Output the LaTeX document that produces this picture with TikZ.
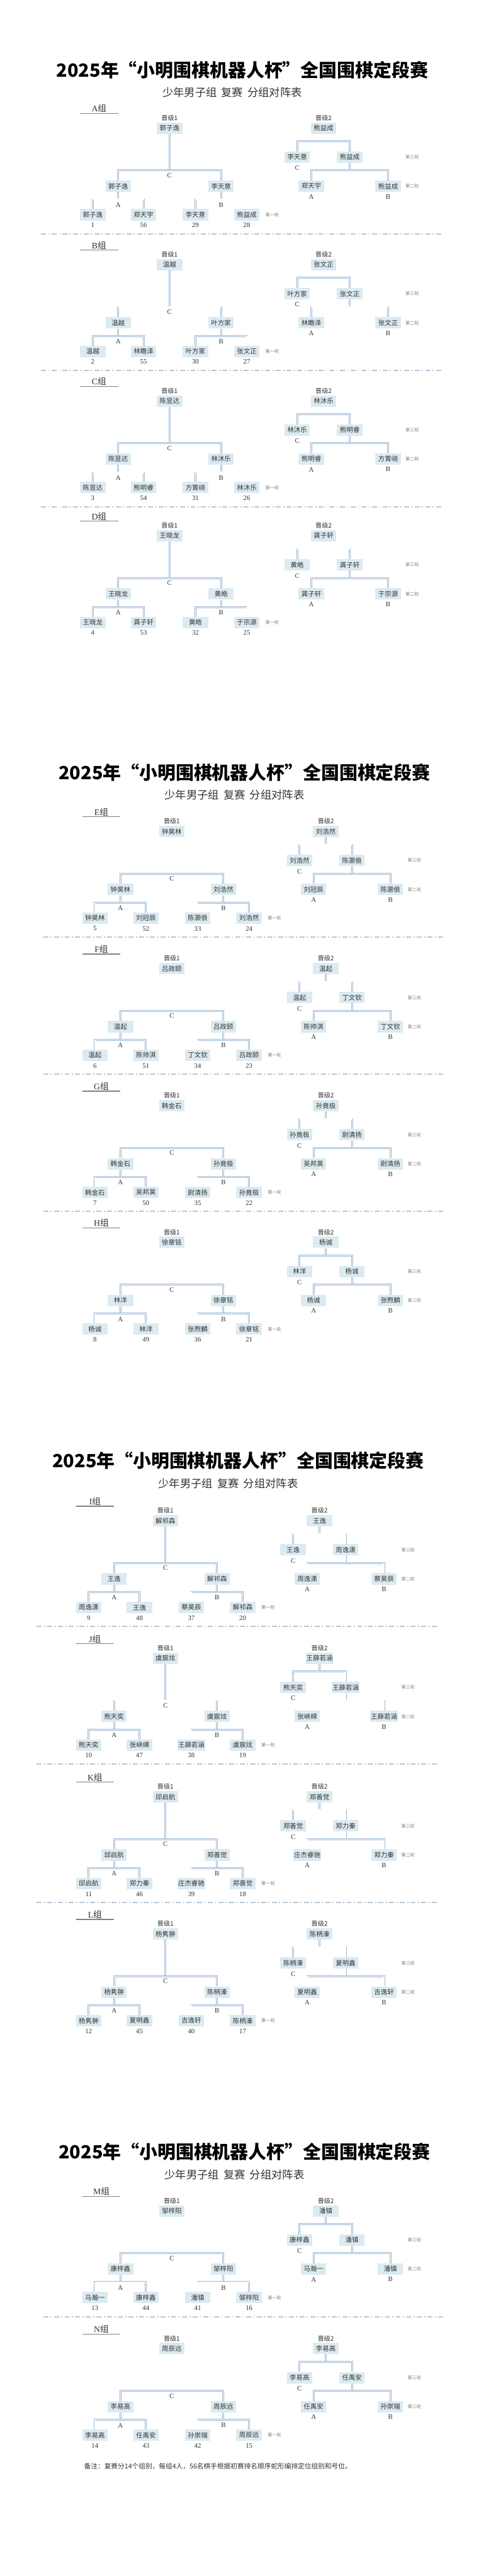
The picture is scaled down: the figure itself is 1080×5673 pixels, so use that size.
\documentclass[tikz,border=0pt]{standalone}
\usepackage{fontspec}
\setmainfont{Liberation Serif}
\newfontfamily\cjk{Noto Sans CJK SC}
\usetikzlibrary{positioning}

\definecolor{boxblue}{HTML}{DCEAF1}
\definecolor{lineblue}{HTML}{9AB7D4}
\definecolor{sepblue}{HTML}{B6C7D8}
\definecolor{inkgray}{HTML}{333333}

\tikzset{
  player/.style={fill=boxblue, minimum width=56pt, minimum height=25pt, inner sep=1pt,
    text=inkgray, font=\cjk\fontsize{14.5}{16}\selectfont},
  dbl/.style={draw=lineblue, line width=1.1pt, double=white, double distance=1.7pt},
  tag/.style={inner sep=0pt, text=inkgray, font=\fontsize{15}{17}\selectfont},
  cjktag/.style={inner sep=0pt, text=inkgray, font=\cjk\fontsize{14}{16}\selectfont},
  roundtag/.style={inner sep=0pt, text=gray, font=\cjk\fontsize{10}{12}\selectfont},
  grouptag/.style={inner sep=0pt, text=inkgray, font=\fontsize{19}{21}\selectfont},
  sepline/.style={draw=sepblue, line width=2.5pt, dash pattern=on 11pt off 5pt on 2.5pt off 5pt},
}

\begin{document}
\begin{tikzpicture}[x=1pt, y=-1pt]
  \fill[white] (0,0) rectangle (1080,5673);
  \useasboundingbox (0,0) rectangle (1080,5673);

  % page headers
  \foreach \dx/\ty in {0/154, 5/1701, -9/3217, 5/4739} {
    \node[text=black, font=\cjk\bfseries\fontsize{40}{44}\selectfont] (title) at (533+\dx,\ty)
      {2025年“小明围棋机器人杯”全国围棋定段赛};
    \node[text=inkgray, font=\cjk\fontsize{24}{28}\selectfont] (subtitle) at (511+\dx,\ty+50)
      {少年男子组\hspace{0.4em}复赛\hspace{0.4em}分组对阵表};
  }

  % one bracket per group
  \foreach \dx/\gy/\gid/\pA/\pB/\pC/\pD/\nA/\nB/\nC/\nD/\mA/\mB/\wA/\sA/\sB/\tA/\tB/\wB/\sep in {
      0/239/A/郭子逸/郑天宇/李天意/熊益成/1/56/29/28/郭子逸/李天意/郭子逸/郑天宇/熊益成/李天意/熊益成/熊益成/1,
      0/540/B/温越/林瞻泽/叶方家/张文正/2/55/30/27/温越/叶方家/温越/林瞻泽/张文正/叶方家/张文正/张文正/1,
      0/840/C/陈昱达/熊明睿/方箐峣/林沐乐/3/54/31/26/陈昱达/林沐乐/陈昱达/熊明睿/方箐峣/林沐乐/熊明睿/林沐乐/1,
      0/1137/D/王晓龙/龚子轩/黄皓/于宗源/4/53/32/25/王晓龙/黄皓/王晓龙/龚子轩/于宗源/黄皓/龚子轩/龚子轩/0,
      5/1788/E/钟昊林/刘冠辰/陈灏俍/刘浩然/5/52/33/24/钟昊林/刘浩然/钟昊林/刘冠辰/陈灏俍/刘浩然/陈灏俍/刘浩然/1,
      5/2090/F/温起/陈帅淇/丁文钦/吕政颐/6/51/34/23/温起/吕政颐/吕政颐/陈帅淇/丁文钦/温起/丁文钦/温起/1,
      5/2392/G/韩金石/吴邦昊/尉清扬/孙竟极/7/50/35/22/韩金石/孙竟极/韩金石/吴邦昊/尉清扬/孙竟极/尉清扬/孙竟极/1,
      5/2693/H/杨诚/林洋/张煦麟/徐章铭/8/49/36/21/林洋/徐章铭/徐章铭/杨诚/张煦麟/林洋/杨诚/杨诚/0,
      -9/3306/I/周逸潇/王逸/蔡昊辰/解祁森/9/48/37/20/王逸/解祁森/解祁森/周逸潇/蔡昊辰/王逸/周逸潇/王逸/1,
      -9/3609/J/熊天奕/张峡嵘/王薛若涵/虞宸炫/10/47/38/19/熊天奕/虞宸炫/虞宸炫/张峡嵘/王薛若涵/熊天奕/王薛若涵/王薛若涵/1,
      -9/3914/K/邱启航/郑力秦/庄杰睿驰/郑善觉/11/46/39/18/邱启航/郑善觉/邱启航/庄杰睿驰/郑力秦/郑善觉/郑力秦/郑善觉/1,
      -9/4216/L/杨隽翀/夏明鑫/吉逸轩/陈柄溱/12/45/40/17/杨隽翀/陈柄溱/杨隽翀/夏明鑫/吉逸轩/陈柄溱/夏明鑫/陈柄溱/0,
      5/4826/M/马瀚一/康梓鑫/潘镇/邹梓阳/13/44/41/16/康梓鑫/邹梓阳/邹梓阳/马瀚一/潘镇/康梓鑫/潘镇/潘镇/1,
      5/5129/N/李易高/任禹安/孙崇瑞/周辰远/14/43/42/15/李易高/周辰远/周辰远/任禹安/孙崇瑞/李易高/任禹安/李易高/0} {
    \begin{scope}[shift={(\dx,\gy)}]
      % group heading
      \node[grouptag] (gtag) at (218,0) {\gid{\cjk 组}};
      \draw[gray, line width=1.5pt] (176,11) -- (260,11);

      % left bracket: first round, semifinal, winner
      \node[player] (b1) at (204,234) {\pA};
      \node[player] (b2) at (316,234) {\pB};
      \node[player] (b3) at (430,234) {\pC};
      \node[player] (b4) at (543,234) {\pD};
      \node[player] (r1) at (260,171) {\mA};
      \node[player] (r2) at (486.5,171) {\mB};
      \node[player] (w1) at (373,43) {\wA};
      \foreach \b/\n in {b1/\nA, b2/\nB, b3/\nC, b4/\nD}
        \node[tag, below=5pt of \b] (num-\b) {\n};
      \coordinate (ja) at (260,200);
      \coordinate (jb) at (486.5,200);
      \coordinate (jc) at (373,136);
      \draw[dbl] (r1.south) -- (ja);
      \draw[dbl] (b1.north) |- (ja) -| (b2.north);
      \draw[dbl] (r2.south) -- (jb);
      \draw[dbl] (b3.north) |- (jb) -| (b4.north);
      \draw[dbl] (w1.south) -- (jc);
      \draw[dbl] (r1.north) |- (jc) -| (r2.north);
      \node[tag, below=7pt of ja] (la) {A};
      \node[tag, below=7pt of jb] (lb) {B};
      \node[tag, below=6pt of jc] (lc) {C};
      \node[cjktag, above=3pt of w1] (adv1) {晋级1};
      \node[roundtag] (rd1) at (599,234) {第一轮};

      % right bracket: losers meet for second place
      \node[player] (s1) at (685,171) {\sA};
      \node[player] (s2) at (854,171) {\sB};
      \node[player] (u1) at (654,107) {\tA};
      \node[player] (u2) at (769.5,107) {\tB};
      \node[player] (w2) at (712,43) {\wB};
      \coordinate (jd) at (769.5,136);
      \coordinate (je) at (712,72);
      \draw[dbl] (u2.south) -- (jd);
      \draw[dbl] (s1.north) |- (jd) -| (s2.north);
      \draw[dbl] (w2.south) -- (je);
      \draw[dbl] (u1.north) |- (je) -| (u2.north);
      \node[tag, below=5pt of s1] (sa) {A};
      \node[tag, below=5pt of s2] (sb) {B};
      \node[tag, below=6pt of u1] (uc) {C};
      \node[cjktag, above=3pt of w2] (adv2) {晋级2};
      \node[roundtag] (rd3) at (907,107) {第三轮};
      \node[roundtag] (rd2) at (907,171) {第二轮};

      % divider to the next group
      \ifnum\sep=1
        \draw[sepline] (90,276) -- (975,276);
      \fi
    \end{scope}
  }

  \node[anchor=west, inner sep=0pt, text=inkgray, font=\cjk\fontsize{14.8}{17}\selectfont] (note) at (185,5432)
    {备注：复赛分14个组别，每组4人，56名棋手根据初赛排名顺序蛇形编排定位组别和号位。};
\end{tikzpicture}
\end{document}
